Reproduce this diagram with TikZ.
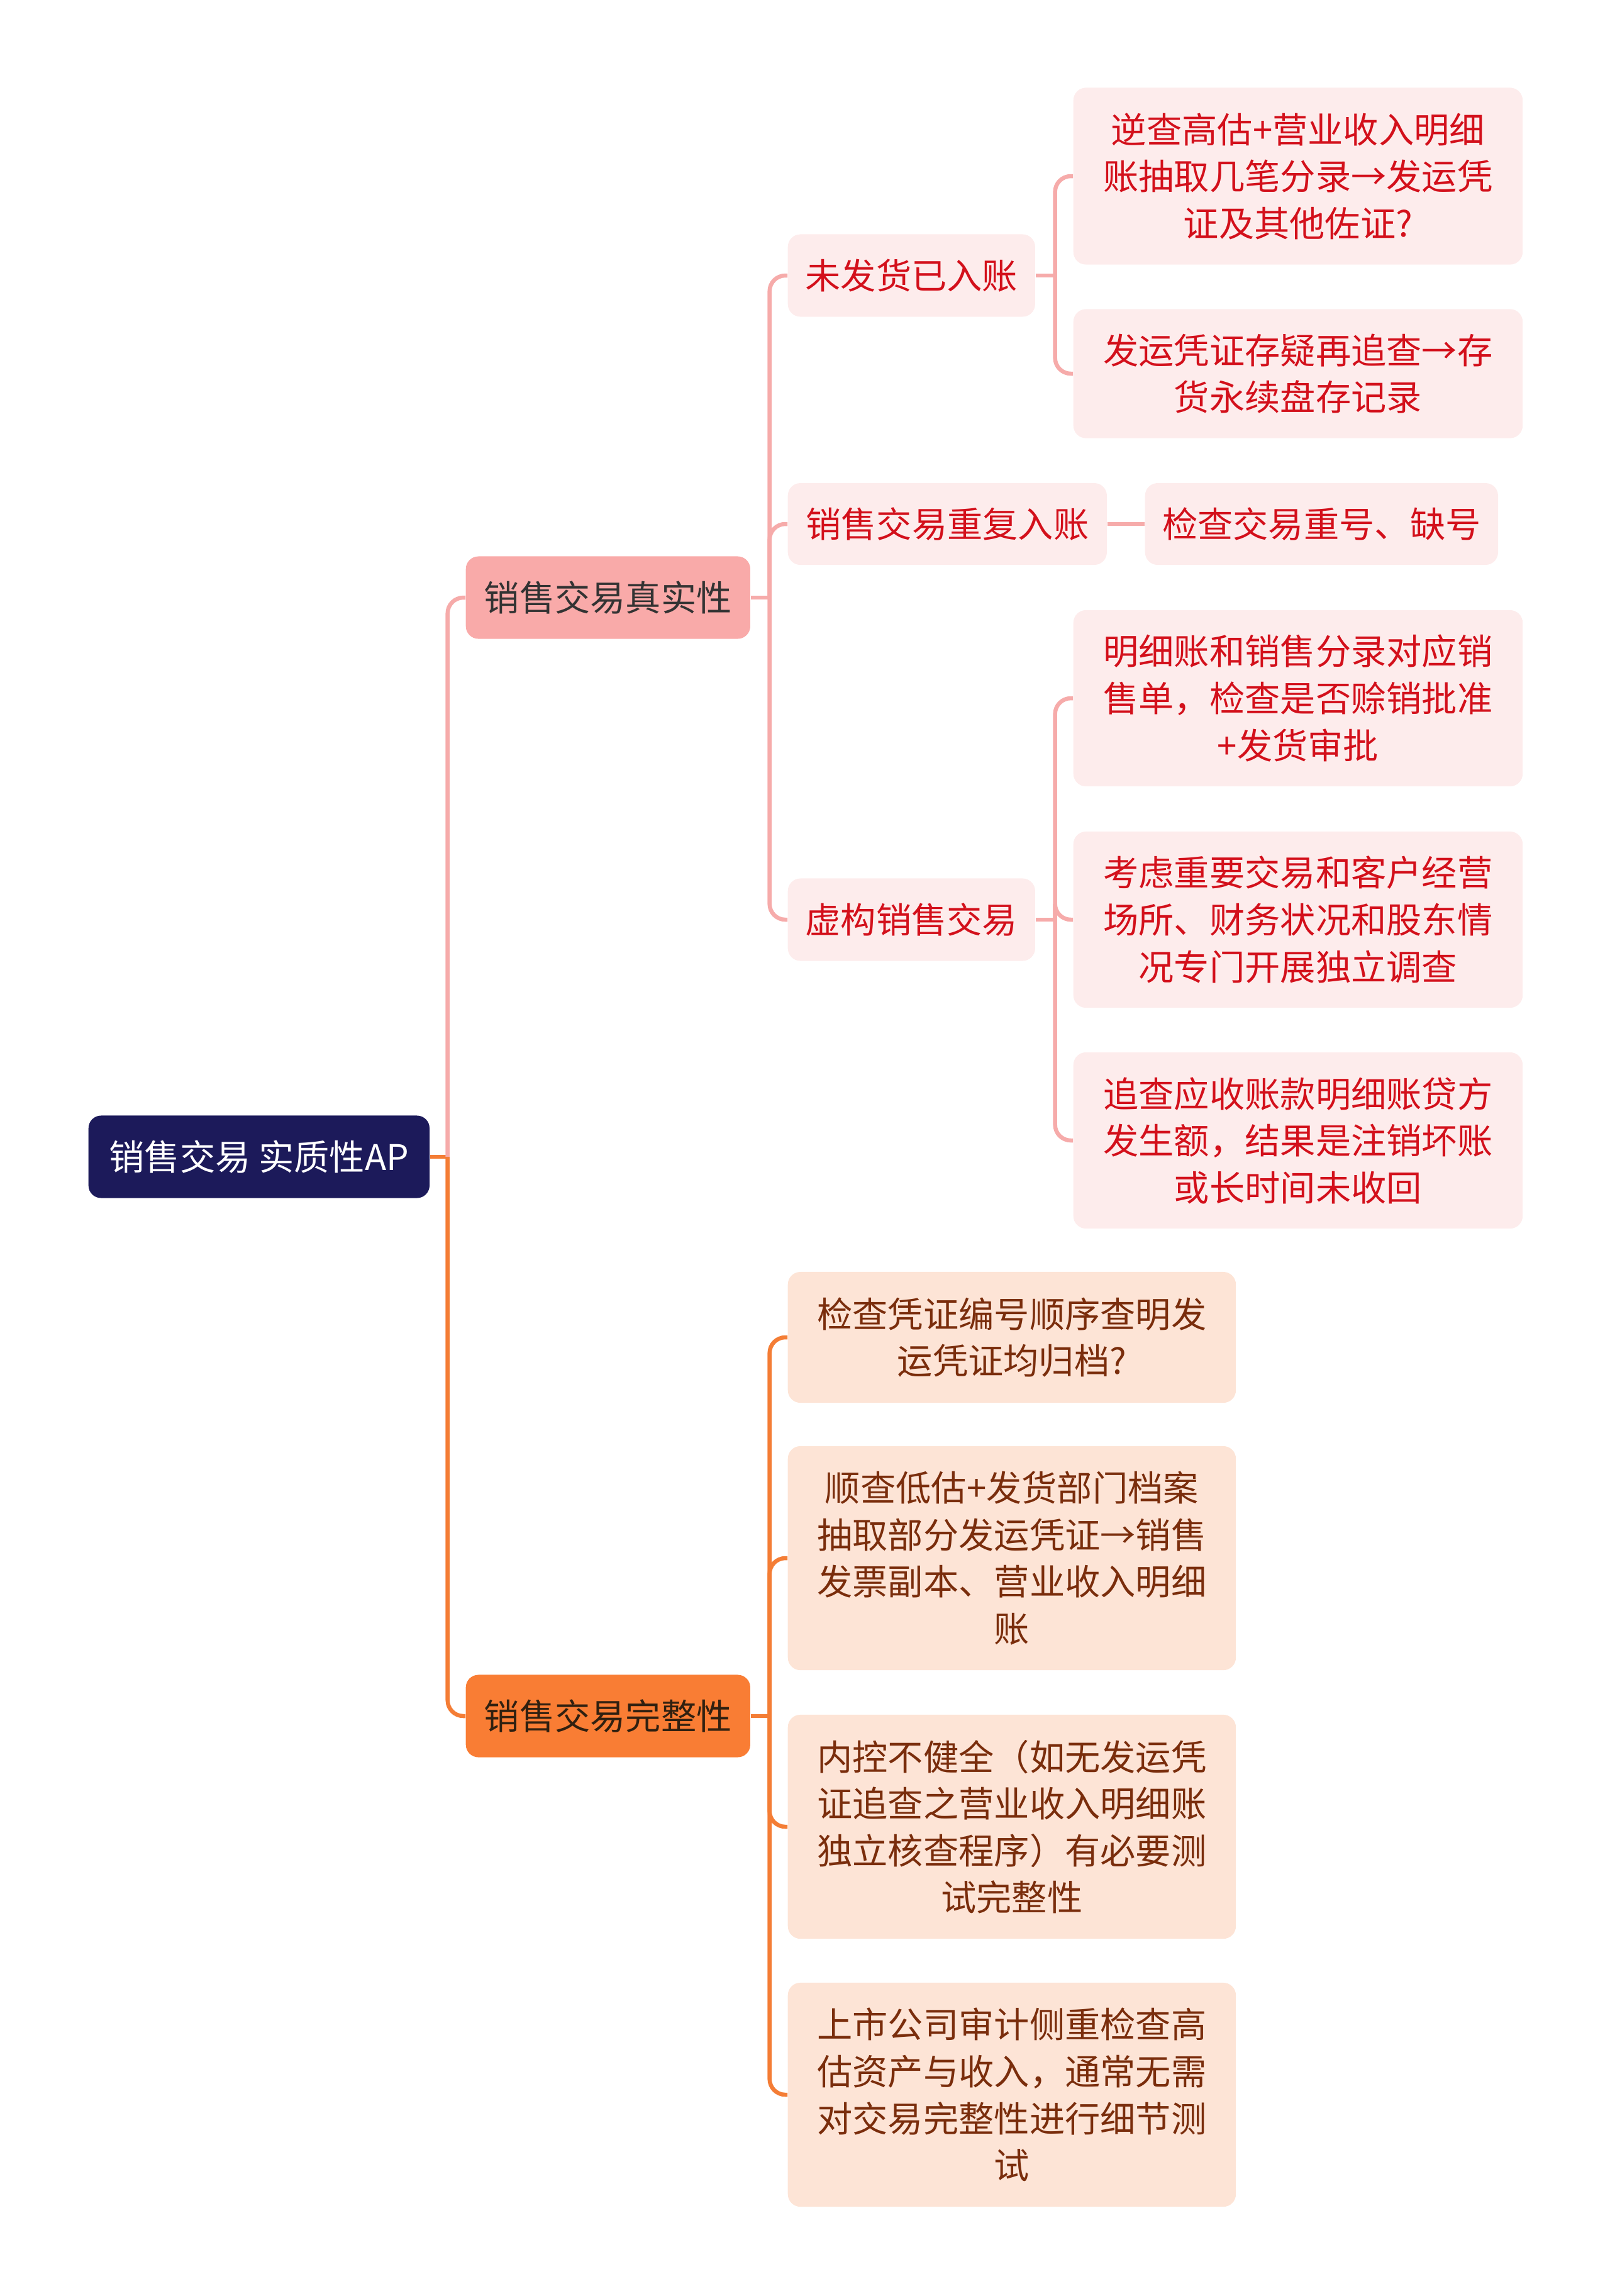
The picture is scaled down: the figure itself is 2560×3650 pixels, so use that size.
\documentclass[tikz,border=0pt]{standalone}
\usepackage{fontspec}
\setmainfont{Noto Sans CJK SC}
\definecolor{rootnavy}{HTML}{1C1A5A}
\definecolor{pinkmain}{HTML}{F9AAA9}
\definecolor{orangemain}{HTML}{F97D34}
\definecolor{pinkleaf}{HTML}{FDECEC}
\definecolor{orangeleaf}{HTML}{FDE4D6}
\definecolor{redtext}{HTML}{D3101B}
\definecolor{browntext}{HTML}{7A2D0C}
\definecolor{pinkline}{HTML}{F6ABAA}
\definecolor{orangeline}{HTML}{F47D35}
\tikzset{
  box/.style={rounded corners=0.2cm, anchor=west, align=center, inner sep=0pt,
    font=\fontsize{16}{21.2}\selectfont},
  rootbox/.style={box, fill=rootnavy, text=white},
  pinkhead/.style={box, fill=pinkmain, text=black!80},
  orangehead/.style={box, fill=orangemain, text=black!75!brown},
  pinkbox/.style={box, fill=pinkleaf, text=redtext},
  orangebox/.style={box, fill=orangeleaf, text=browntext},
  pinklink/.style={draw=pinkline, line width=0.065cm, rounded corners=0.25cm},
  orangelink/.style={draw=orangeline, line width=0.065cm, rounded corners=0.25cm}
}
\begin{document}
\begin{tikzpicture}[x=0.01cm, y=-0.01cm]
  \useasboundingbox (0,0) rectangle (2560,3650);
  % root and main branches
  \node[rootbox, minimum width=5.42cm, minimum height=1.31cm] (root) at (140,1839) {销售交易 实质性AP};
  \node[pinkhead, minimum width=4.52cm, minimum height=1.31cm] (real) at (740,950) {销售交易真实性};
  \node[orangehead, minimum width=4.52cm, minimum height=1.31cm] (full) at (740,2728) {销售交易完整性};
  % authenticity
  \node[pinkbox, minimum width=3.93cm, minimum height=1.31cm] (unship) at (1252,438) {未发货已入账};
  \node[pinkbox, minimum width=5.07cm, minimum height=1.30cm] (dup) at (1252,833) {销售交易重复入账};
  \node[pinkbox, minimum width=3.93cm, minimum height=1.31cm] (fake) at (1252,1462) {虚构销售交易};
  \node[pinkbox, minimum width=7.14cm, minimum height=2.81cm] (us1) at (1706,280) {逆查高估+营业收入明细\\账抽取几笔分录→发运凭\\证及其他佐证?};
  \node[pinkbox, minimum width=7.14cm, minimum height=2.05cm] (us2) at (1706,594) {发运凭证存疑再追查→存\\货永续盘存记录};
  \node[pinkbox, minimum width=5.61cm, minimum height=1.30cm] (dup1) at (1820,833) {检查交易重号、缺号};
  \node[pinkbox, minimum width=7.14cm, minimum height=2.80cm] (fk1) at (1706,1110) {明细账和销售分录对应销\\售单，检查是否赊销批准\\+发货审批};
  \node[pinkbox, minimum width=7.14cm, minimum height=2.80cm] (fk2) at (1706,1462) {考虑重要交易和客户经营\\场所、财务状况和股东情\\况专门开展独立调查};
  \node[pinkbox, minimum width=7.14cm, minimum height=2.80cm] (fk3) at (1706,1813) {追查应收账款明细账贷方\\发生额，结果是注销坏账\\或长时间未收回};
  % completeness
  \node[orangebox, minimum width=7.12cm, minimum height=2.08cm] (cp1) at (1252,2126) {检查凭证编号顺序查明发\\运凭证均归档?};
  \node[orangebox, minimum width=7.12cm, minimum height=3.56cm] (cp2) at (1252,2477) {顺查低估+发货部门档案\\抽取部分发运凭证→销售\\发票副本、营业收入明细\\账};
  \node[orangebox, minimum width=7.12cm, minimum height=3.56cm] (cp3) at (1252,2904) {内控不健全（如无发运凭\\证追查之营业收入明细账\\独立核查程序）有必要测\\试完整性};
  \node[orangebox, minimum width=7.12cm, minimum height=3.56cm] (cp4) at (1252,3330) {上市公司审计侧重检查高\\估资产与收入，通常无需\\对交易完整性进行细节测\\试};
  % connectors
  \draw[orangelink] (root.east) -- ++(28,0) coordinate (jroot);
  \draw[pinklink] (jroot) |- (real.west);
  \draw[orangelink] (jroot) |- (full.west);
  \draw[pinklink] (real.east) -- ++(30,0) coordinate (jreal);
  \foreach \c in {unship,dup,fake} \draw[pinklink] (jreal) |- (\c.west);
  \draw[pinklink] (unship.east) -- ++(31,0) coordinate (jus);
  \foreach \c in {us1,us2} \draw[pinklink] (jus) |- (\c.west);
  \draw[pinklink] (dup.east) -- (dup1.west);
  \draw[pinklink] (fake.east) -- ++(31,0) coordinate (jfk);
  \foreach \c in {fk1,fk2,fk3} \draw[pinklink] (jfk) |- (\c.west);
  \draw[orangelink] (full.east) -- ++(30,0) coordinate (jfull);
  \foreach \c in {cp1,cp2,cp3,cp4} \draw[orangelink] (jfull) |- (\c.west);
\end{tikzpicture}
\end{document}
